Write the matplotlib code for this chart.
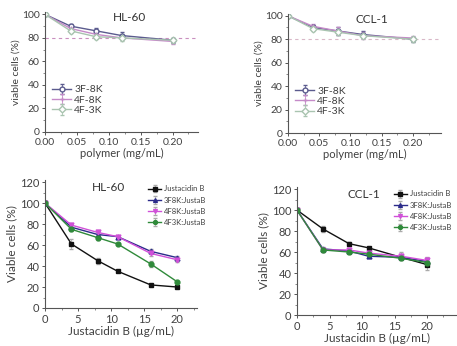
import matplotlib
matplotlib.use("Agg")
import matplotlib.pyplot as plt
import numpy as np

plt.rcParams['font.family'] = ['Lato', 'DejaVu Sans']

# ---- data ----
poly_x = [0, 0.04, 0.08, 0.12, 0.20]
poly_labels = ["3F-8K", "4F-8K", "4F-3K"]
hl60_poly = {
    "3F-8K": [100, 90, 86, 82, 78],
    "4F-8K": [100, 88, 83, 80, 77],
    "4F-3K": [100, 86, 81, 80, 78],
}
hl60_poly_err = {
    "3F-8K": [1, 2, 2, 3, 2],
    "4F-8K": [1, 2, 2, 2, 2],
    "4F-3K": [1, 2, 2, 3, 2],
}
ccl1_poly = {
    "3F-8K": [100, 90, 87, 84, 80],
    "4F-8K": [100, 91, 87, 83, 81],
    "4F-3K": [100, 89, 86, 83, 80],
}
ccl1_poly_err = {
    "3F-8K": [1, 2, 3, 3, 2],
    "4F-8K": [1, 2, 3, 3, 2],
    "4F-3K": [1, 2, 2, 2, 2],
}

jb_x = [0, 4, 8, 11, 16, 20]
jb_labels = ["Justacidin B", "3F8K:JustaB", "4F8K:JustaB", "4F3K:JustaB"]
hl60_jb = {
    "Justacidin B": [100, 61, 45, 35, 22, 20],
    "3F8K:JustaB": [100, 77, 70, 68, 54, 48],
    "4F8K:JustaB": [100, 79, 72, 68, 52, 46],
    "4F3K:JustaB": [100, 75, 67, 61, 42, 25],
}
hl60_jb_err = {
    "Justacidin B": [2, 5, 3, 1, 1, 1],
    "3F8K:JustaB": [2, 2, 2, 1, 2, 2],
    "4F8K:JustaB": [2, 2, 2, 1, 2, 2],
    "4F3K:JustaB": [2, 2, 2, 1, 3, 1],
}
ccl1_jb = {
    "Justacidin B": [100, 82, 68, 64, 55, 48],
    "3F8K:JustaB": [100, 63, 61, 56, 55, 51],
    "4F8K:JustaB": [100, 62, 62, 59, 56, 52],
    "4F3K:JustaB": [100, 62, 60, 58, 54, 50],
}
ccl1_jb_err = {
    "Justacidin B": [1, 3, 2, 1, 2, 5],
    "3F8K:JustaB": [1, 2, 2, 2, 2, 3],
    "4F8K:JustaB": [1, 2, 2, 2, 4, 3],
    "4F3K:JustaB": [1, 2, 2, 2, 2, 3],
}

poly_styles = {
    "3F-8K": dict(color="#5b5b8e", marker="o", mfc="white"),
    "4F-8K": dict(color="#c58ac8", marker="+", mfc="white"),
    "4F-3K": dict(color="#a9c4b0", marker="D", mfc="white"),
}
jb_styles = {
    "Justacidin B": dict(color="#111111", marker="s"),
    "3F8K:JustaB": dict(color="#2b2b8a", marker="^"),
    "4F8K:JustaB": dict(color="#d050d8", marker="v"),
    "4F3K:JustaB": dict(color="#2f8a3a", marker="o"),
}

TXT = "#404040"
fig = plt.figure(figsize=(4.57, 3.46), dpi=100)
W, H = 457, 346

def make_ax(l, t, r, b):
    ax = fig.add_axes([l / W, 1 - b / H, (r - l) / W, (b - t) / H])
    for s in ("top", "right"):
        ax.spines[s].set_visible(False)
    for s in ("left", "bottom"):
        ax.spines[s].set_color("#555555")
        ax.spines[s].set_linewidth(0.8)
    ax.tick_params(direction="out", length=2.5, width=0.7, colors="#555555",
                   labelcolor=TXT, labelsize=7.5, pad=1.5)
    ax.tick_params(which="minor", direction="out", length=1.5, width=0.6, colors="#777777")
    return ax

def poly_panel(ax, data, err, title, xlim, ylim, dashcol):
    ax.axhline(80, color=dashcol, ls=(0, (3, 3)), lw=0.8, zorder=1)
    for lab in poly_labels:
        st = poly_styles[lab]
        ax.errorbar(poly_x, data[lab], yerr=err[lab], color=st["color"], marker=st["marker"],
                    mfc=st["mfc"], mec=st["color"], ms=3.5, lw=1.0, capsize=1.5,
                    elinewidth=0.6, label=lab)
    ax.set_xlim(*xlim)
    ax.set_ylim(*ylim)
    ax.set_xticks([0, 0.05, 0.10, 0.15, 0.20])
    ax.set_xticklabels(["0.00", "0.05", "0.10", "0.15", "0.20"])
    ax.set_xticks(np.arange(0.025, 0.24, 0.05), minor=True)
    ax.set_yticks([0, 20, 40, 60, 80, 100])
    ax.set_yticks([10, 30, 50, 70, 90], minor=True)
    ax.set_xlabel("polymer (mg/mL)", fontsize=8, color=TXT, labelpad=1)
    ax.set_ylabel("viable cells (%)", fontsize=7.5, color=TXT, labelpad=1)
    ax.text(0.55, 0.95, title, transform=ax.transAxes, fontsize=8.5, color="#333333",
            ha="center", va="center")
    ax.legend(loc="lower left", bbox_to_anchor=(0.0, 0.08), frameon=False, fontsize=7.5,
              labelcolor=TXT, handlelength=1.8, handletextpad=0.3, labelspacing=0.1,
              borderpad=0.2)

def jb_panel(ax, data, err, title, xlim, legx, legy):
    for lab in jb_labels:
        st = jb_styles[lab]
        ax.errorbar(jb_x, data[lab], yerr=err[lab], color=st["color"], marker=st["marker"],
                    mfc=st["color"], mec=st["color"], ms=3.5, lw=1.0, capsize=1.5,
                    elinewidth=0.6, ecolor="#aaaaaa", label=lab)
    ax.set_xlim(*xlim)
    ax.set_ylim(0, 122)
    ax.set_xticks([0, 5, 10, 15, 20])
    ax.set_xticks([2.5, 7.5, 12.5, 17.5, 22.5], minor=True)
    ax.set_yticks([0, 20, 40, 60, 80, 100, 120])
    ax.set_yticks([10, 30, 50, 70, 90, 110], minor=True)
    ax.tick_params(labelsize=8)
    ax.set_xlabel("Justacidin B (\u00b5g/mL)", fontsize=8.5, color=TXT, labelpad=1)
    ax.set_ylabel("Viable cells (%)", fontsize=8.5, color=TXT, labelpad=2)
    ax.text(0.42, 0.94, title, transform=ax.transAxes, fontsize=8.5, color="#333333",
            ha="center", va="center")
    ax.legend(loc="upper left", bbox_to_anchor=(legx, legy), frameon=False, fontsize=5.5,
              labelcolor=TXT, handlelength=1.8, handletextpad=0.3, labelspacing=0.55,
              borderpad=0.2, markerscale=0.8)

ax1 = make_ax(45, 12, 198, 132)
poly_panel(ax1, hl60_poly, hl60_poly_err, "HL-60", (0, 0.24), (0, 102), "#c98fbf")
ax2 = make_ax(288, 14, 441, 133)
poly_panel(ax2, ccl1_poly, ccl1_poly_err, "CCL-1", (0, 0.245), (0, 101.5), "#d9b8c8")
ax3 = make_ax(45, 180, 197, 308)
jb_panel(ax3, hl60_jb, hl60_jb_err, "HL-60", (0, 23), 0.64, 1.0)
ax4 = make_ax(297, 187, 457, 315)
jb_panel(ax4, ccl1_jb, ccl1_jb_err, "CCL-1", (0, 24.6), 0.57, 1.015)

fig.savefig("out.png", dpi=100)
